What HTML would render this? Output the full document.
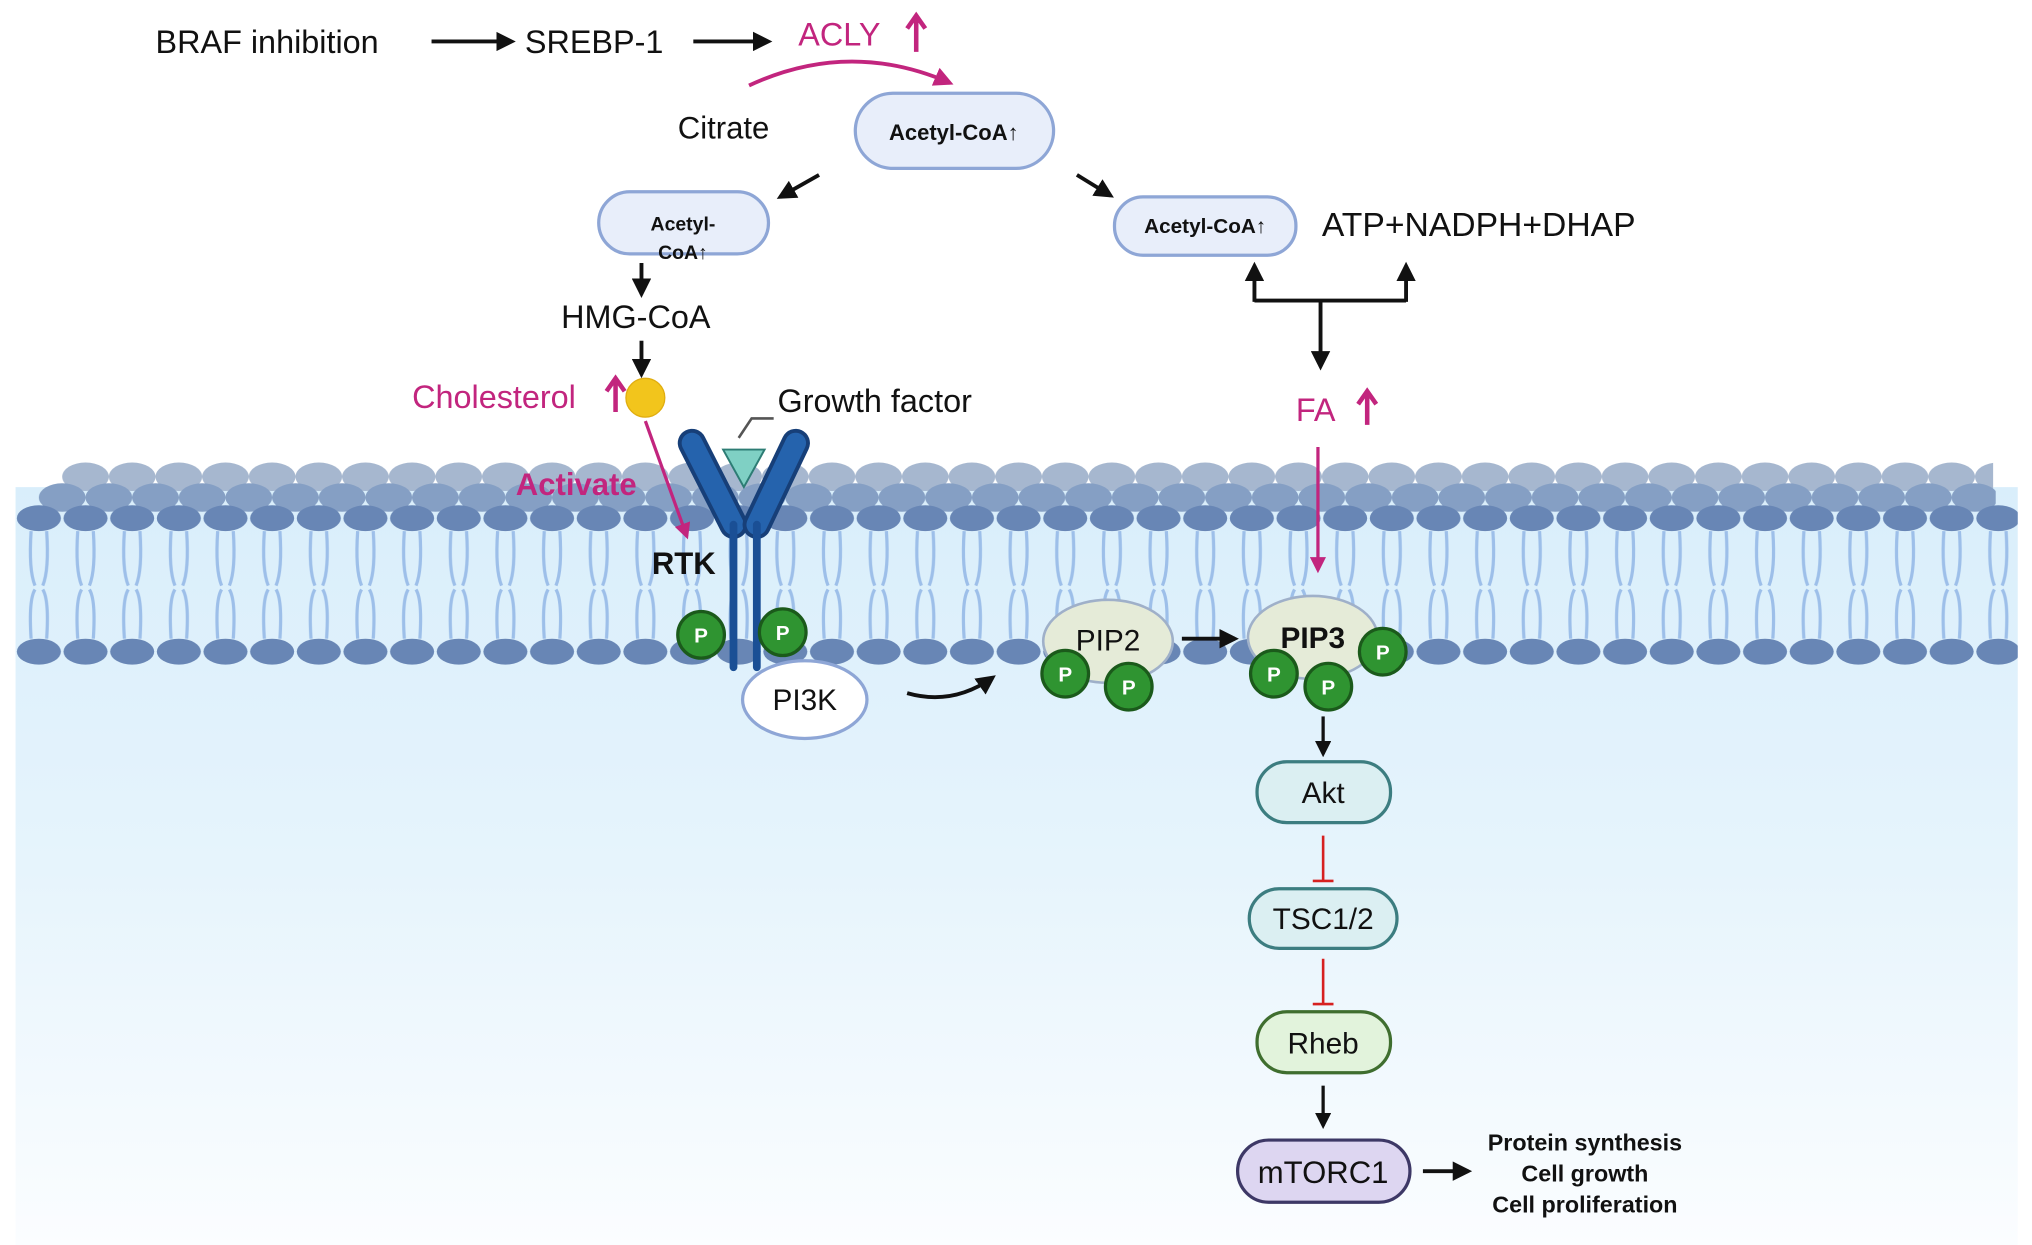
<!DOCTYPE html>
<html><head><meta charset="utf-8"><style>
html,body{margin:0;padding:0;background:#fff;}
svg{display:block;}
text{font-family:"Liberation Sans",Arial,sans-serif;}
</style></head><body>
<svg width="2032" height="1245" viewBox="0 0 1568 961" preserveAspectRatio="none" xmlns="http://www.w3.org/2000/svg">
<defs>
<linearGradient id="bg" x1="0" y1="0" x2="0" y2="1">
<stop offset="0" stop-color="#d9eefb"/><stop offset="0.5" stop-color="#e6f4fc"/><stop offset="1" stop-color="#fbfdff"/>
</linearGradient>
<marker id="ab" viewBox="0 0 10 10" refX="8" refY="5" markerWidth="5" markerHeight="5" orient="auto-start-reverse"><path d="M0,0L10,5L0,10z" fill="#111"/></marker>
<marker id="am" viewBox="0 0 10 10" refX="8" refY="5" markerWidth="5" markerHeight="5" orient="auto"><path d="M0,0L10,5L0,10z" fill="#c2257e"/></marker>
<pattern id="tails" x="12" y="0" width="36" height="961" patternUnits="userSpaceOnUse">
<path d="M12,410 Q10,440 15,452 M24,410 Q26,440 21,452 M12,493 Q10,463 15,455 M24,493 Q26,463 21,455" stroke="#9dbfe9" stroke-width="2.5" fill="none"/>
</pattern>
<pattern id="back1" x="12" y="0" width="36" height="961" patternUnits="userSpaceOnUse"><ellipse cx="18" cy="368" rx="18" ry="11" fill="#a6b7cf"/></pattern>
<pattern id="back2" x="30" y="0" width="36" height="961" patternUnits="userSpaceOnUse"><ellipse cx="18" cy="384" rx="18" ry="11" fill="#859fc4"/></pattern>
<pattern id="front" x="12" y="0" width="36" height="961" patternUnits="userSpaceOnUse"><ellipse cx="18" cy="400" rx="17" ry="10" fill="#6886b5"/><ellipse cx="18" cy="503" rx="17" ry="10" fill="#6886b5"/></pattern>
</defs>
<rect x="12" y="376" width="1545" height="585" fill="url(#bg)"/>
<rect x="48" y="356" width="1490" height="24" fill="url(#back1)"/>
<rect x="30" y="372" width="1510" height="24" fill="url(#back2)"/>
<rect x="12" y="405" width="1545" height="95" fill="url(#tails)"/>
<rect x="12" y="388" width="1545" height="24" fill="url(#front)"/>
<rect x="12" y="491" width="1545" height="24" fill="url(#front)"/>

<!-- top -->
<text x="120" y="41" font-size="25" fill="#111">BRAF inhibition</text>
<line x1="333" y1="32" x2="395" y2="32" stroke="#111" stroke-width="3" marker-end="url(#ab)"/>
<text x="405" y="41" font-size="25" fill="#111">SREBP-1</text>
<line x1="535" y1="32" x2="593" y2="32" stroke="#111" stroke-width="3" marker-end="url(#ab)"/>
<text x="616" y="35" font-size="25" fill="#c2257e">ACLY</text>
<path d="M707,40V14M700,22L707,12L714,22" stroke="#c2257e" stroke-width="3.5" fill="none"/>
<path d="M578,66 Q655,30 733,64" stroke="#c2257e" stroke-width="3" fill="none" marker-end="url(#am)"/>
<text x="523" y="107" font-size="24" fill="#111">Citrate</text>
<rect x="660" y="72" width="153" height="58" rx="29" fill="#e8eefa" stroke="#8ea6d6" stroke-width="2.5"/>
<text x="736" y="108" font-size="17" font-weight="bold" text-anchor="middle" fill="#111">Acetyl-CoA↑</text>
<line x1="632" y1="135" x2="602" y2="152" stroke="#111" stroke-width="3" marker-end="url(#ab)"/>
<line x1="831" y1="135" x2="857" y2="151" stroke="#111" stroke-width="3" marker-end="url(#ab)"/>
<rect x="462" y="148" width="131" height="48" rx="24" fill="#e8eefa" stroke="#8ea6d6" stroke-width="2.5"/>
<text x="527" y="178" font-size="15" font-weight="bold" text-anchor="middle" fill="#111">Acetyl-</text>
<text x="527" y="200" font-size="15" font-weight="bold" text-anchor="middle" fill="#111">CoA↑</text>
<rect x="860" y="152" width="140" height="45" rx="22" fill="#e8eefa" stroke="#8ea6d6" stroke-width="2.5"/>
<text x="930" y="180" font-size="16" font-weight="bold" text-anchor="middle" fill="#111">Acetyl-CoA↑</text>
<text x="1020" y="182" font-size="26" fill="#111">ATP+NADPH+DHAP</text>
<line x1="495" y1="203" x2="495" y2="227" stroke="#111" stroke-width="3" marker-end="url(#ab)"/>
<text x="433" y="253" font-size="25" fill="#111">HMG-CoA</text>
<line x1="495" y1="263" x2="495" y2="289" stroke="#111" stroke-width="3" marker-end="url(#ab)"/>
<path d="M968,232H1085" stroke="#111" stroke-width="3"/>
<line x1="968" y1="233" x2="968" y2="205" stroke="#111" stroke-width="3" marker-end="url(#ab)"/>
<line x1="1085" y1="233" x2="1085" y2="205" stroke="#111" stroke-width="3" marker-end="url(#ab)"/>
<line x1="1019" y1="232" x2="1019" y2="283" stroke="#111" stroke-width="3" marker-end="url(#ab)"/>
<text x="318" y="315" font-size="25" fill="#c2257e">Cholesterol</text>
<path d="M475,318V294M468,302L475,292L482,302" stroke="#c2257e" stroke-width="3.5" fill="none"/>
<circle cx="498" cy="307" r="15" fill="#f2c51c" stroke="#e0ad10"/>
<text x="1000" y="325" font-size="25" fill="#c2257e">FA</text>
<path d="M1055,328V304M1048,312L1055,302L1062,312" stroke="#c2257e" stroke-width="3.5" fill="none"/>
<line x1="1017" y1="345" x2="1017" y2="440" stroke="#c2257e" stroke-width="2.5" marker-end="url(#am)"/>
<text x="600" y="318" font-size="25" fill="#111">Growth factor</text>
<path d="M570,338L580,323H597" stroke="#555" stroke-width="2" fill="none"/>

<!-- RTK -->
<path d="M534,342 L566,405" stroke="#173f78" stroke-width="22" fill="none" stroke-linecap="round"/>
<path d="M534,342 L566,405" stroke="#2563ad" stroke-width="16" fill="none" stroke-linecap="round"/>
<path d="M614,342 L584,405" stroke="#173f78" stroke-width="22" fill="none" stroke-linecap="round"/>
<path d="M614,342 L584,405" stroke="#2563ad" stroke-width="16" fill="none" stroke-linecap="round"/>
<path d="M566,405V515M584,405V515" stroke="#1a4f95" stroke-width="6" stroke-linecap="round"/>
<path d="M558,347H590L574,376Z" fill="#7fd0c4" stroke="#2d7c74" stroke-width="1.5"/>
<text x="398" y="382" font-size="24" font-weight="bold" fill="#c2257e">Activate</text>
<line x1="498" y1="325" x2="530" y2="414" stroke="#c2257e" stroke-width="2.5" marker-end="url(#am)"/>
<text x="503" y="443" font-size="24" font-weight="bold" fill="#111">RTK</text>
<g font-size="16" font-weight="bold" fill="#fff" text-anchor="middle">
<circle cx="541" cy="490" r="18" fill="#2f9431" stroke="#1b5a1b" stroke-width="2.5"/><text x="541" y="496">P</text>
<circle cx="604" cy="488" r="18" fill="#2f9431" stroke="#1b5a1b" stroke-width="2.5"/><text x="604" y="494">P</text>
</g>
<ellipse cx="621" cy="540" rx="48" ry="30" fill="#fff" stroke="#8ea6d6" stroke-width="2.5"/>
<text x="621" y="548" font-size="23" text-anchor="middle" fill="#111">PI3K</text>
<path d="M700,535 Q735,545 766,523" stroke="#111" stroke-width="3" fill="none" marker-end="url(#ab)"/>
<ellipse cx="855" cy="495" rx="50" ry="32" fill="#e5ebd8" stroke="#9fb0c9" stroke-width="2"/>
<text x="855" y="502" font-size="23" text-anchor="middle" fill="#111">PIP2</text>
<line x1="912" y1="493" x2="953" y2="493" stroke="#111" stroke-width="3" marker-end="url(#ab)"/>
<ellipse cx="1013" cy="492" rx="50" ry="32" fill="#e5ebd8" stroke="#9fb0c9" stroke-width="2"/>
<text x="1013" y="500" font-size="23" font-weight="bold" text-anchor="middle" fill="#111">PIP3</text>
<g font-size="16" font-weight="bold" fill="#fff" text-anchor="middle">
<circle cx="822" cy="520" r="18" fill="#2f9431" stroke="#1b5a1b" stroke-width="2.5"/><text x="822" y="526">P</text>
<circle cx="871" cy="530" r="18" fill="#2f9431" stroke="#1b5a1b" stroke-width="2.5"/><text x="871" y="536">P</text>
<circle cx="983" cy="520" r="18" fill="#2f9431" stroke="#1b5a1b" stroke-width="2.5"/><text x="983" y="526">P</text>
<circle cx="1025" cy="530" r="18" fill="#2f9431" stroke="#1b5a1b" stroke-width="2.5"/><text x="1025" y="536">P</text>
<circle cx="1067" cy="503" r="18" fill="#2f9431" stroke="#1b5a1b" stroke-width="2.5"/><text x="1067" y="509">P</text>
</g>
<line x1="1021" y1="553" x2="1021" y2="582" stroke="#111" stroke-width="2.5" marker-end="url(#ab)"/>
<rect x="970" y="588" width="103" height="47" rx="23" fill="#dbeff2" stroke="#3c7d80" stroke-width="2.5"/>
<text x="1021" y="620" font-size="23" text-anchor="middle" fill="#111">Akt</text>
<path d="M1021,645V680M1013,680H1029" stroke="#d62020" stroke-width="2"/>
<rect x="964" y="686" width="114" height="46" rx="23" fill="#dbeff2" stroke="#3c7d80" stroke-width="2.5"/>
<text x="1021" y="717" font-size="23" text-anchor="middle" fill="#111">TSC1/2</text>
<path d="M1021,740V775M1013,775H1029" stroke="#d62020" stroke-width="2"/>
<rect x="970" y="781" width="103" height="47" rx="23" fill="#e2f3dc" stroke="#3f6e2f" stroke-width="2.5"/>
<text x="1021" y="813" font-size="23" text-anchor="middle" fill="#111">Rheb</text>
<line x1="1021" y1="838" x2="1021" y2="869" stroke="#111" stroke-width="2.5" marker-end="url(#ab)"/>
<rect x="955" y="880" width="133" height="48" rx="24" fill="#ddd6f1" stroke="#3d3866" stroke-width="2.5"/>
<text x="1021" y="913" font-size="24" text-anchor="middle" fill="#111">mTORC1</text>
<line x1="1098" y1="904" x2="1133" y2="904" stroke="#111" stroke-width="3" marker-end="url(#ab)"/>
<g font-size="18" font-weight="bold" text-anchor="middle" fill="#111">
<text x="1223" y="888">Protein synthesis</text>
<text x="1223" y="912">Cell growth</text>
<text x="1223" y="936">Cell proliferation</text>
</g>
</svg>
</body></html>
